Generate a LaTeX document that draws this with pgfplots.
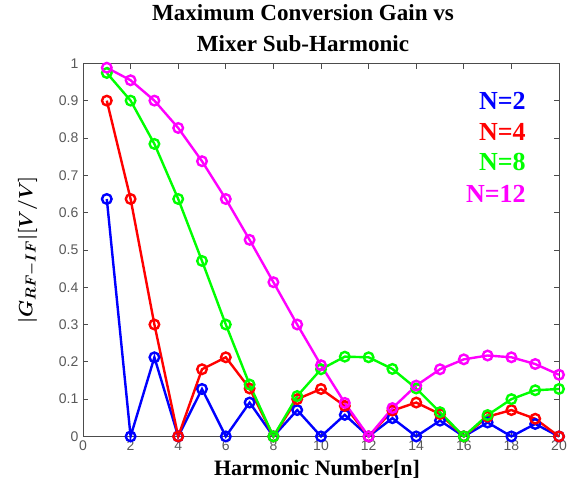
\documentclass[border=0pt]{standalone}
\usepackage{bm}
\usepackage{pgfplots}
\pgfplotsset{compat=1.18}
\usepackage{fontspec}
\setmainfont{Liberation Serif}
\setsansfont{Liberation Sans}
\definecolor{mblue}{RGB}{0,0,255}
\definecolor{mred}{RGB}{255,0,0}
\definecolor{mgreen}{RGB}{0,255,0}
\definecolor{mmag}{RGB}{255,0,255}
\begin{document}
\begin{tikzpicture}
\begin{axis}[
  scale only axis,
  width=357pt, height=279.75pt,
  xmin=0, xmax=20, ymin=0, ymax=1,
  xtick={0,2,...,20},
  ytick={0,0.1,...,1},
  yticklabels={0,0.1,0.2,0.3,0.4,0.5,0.6,0.7,0.8,0.9,1},
  tick align=inside,
  major tick length=4pt,
  axis line style={black!70, line width=0.6pt},
  every tick/.style={black!70, line width=0.6pt},
  tick label style={font=\sffamily\fontsize{10.5}{12}\selectfont, text=black!65},
  /pgf/number format/assume math mode=true,
  title={Maximum Conversion Gain vs\\Mixer Sub-Harmonic},
  title style={align=center, yshift=-1pt, xshift=-13.5pt, font=\bfseries\fontsize{17.3}{23.5}\selectfont},
  xlabel={Harmonic Number[n]},
  xlabel style={font=\bfseries\fontsize{16.5}{20}\selectfont, xshift=-3pt},
  ylabel={$\bm{|G_{RF-IF}|[V/V]}$},
  ylabel style={font=\fontsize{15.5}{18}\selectfont, yshift=9pt},
  every axis plot/.append style={line width=1.8pt, mark=o, mark size=3.6pt},
  clip=false,
]
\addplot[mblue] coordinates {
(1,0.6366)(2,0)(3,0.2122)(4,0)(5,0.1273)(6,0)(7,0.0909)(8,0)(9,0.0707)(10,0)
(11,0.0579)(12,0)(13,0.0490)(14,0)(15,0.0424)(16,0)(17,0.0374)(18,0)(19,0.0335)(20,0)};
\addplot[mred] coordinates {
(1,0.9003)(2,0.6366)(3,0.3001)(4,0)(5,0.1801)(6,0.2122)(7,0.1286)(8,0)(9,0.1000)(10,0.1273)
(11,0.0818)(12,0)(13,0.0693)(14,0.0909)(15,0.0600)(16,0)(17,0.0530)(18,0.0707)(19,0.0474)(20,0)};
\addplot[mgreen] coordinates {
(1,0.9745)(2,0.9003)(3,0.7842)(4,0.6366)(5,0.4705)(6,0.3001)(7,0.1392)(8,0)(9,0.1083)(10,0.1801)
(11,0.2139)(12,0.2122)(13,0.1810)(14,0.1286)(15,0.0650)(16,0)(17,0.0573)(18,0.1000)(19,0.1238)(20,0.1273)};
\addplot[mmag] coordinates {
(1,0.9886)(2,0.9549)(3,0.9003)(4,0.8270)(5,0.7379)(6,0.6366)(7,0.5271)(8,0.4135)(9,0.3001)(10,0.1910)
(11,0.0899)(12,0)(13,0.0760)(14,0.1364)(15,0.1801)(16,0.2067)(17,0.2170)(18,0.2122)(19,0.1942)(20,0.1654)};
\node[anchor=east, text=mblue, font=\bfseries\fontsize{19.5}{21}\selectfont] at (rel axis cs:0.94,0.9) {N=2};
\node[anchor=east, text=mred, font=\bfseries\fontsize{19.5}{21}\selectfont] at (rel axis cs:0.94,0.815) {N=4};
\node[anchor=east, text=mgreen, font=\bfseries\fontsize{19.5}{21}\selectfont] at (rel axis cs:0.94,0.735) {N=8};
\node[anchor=east, text=mmag, font=\bfseries\fontsize{19.5}{21}\selectfont] at (rel axis cs:0.94,0.65) {N=12};
\end{axis}
\path (current axis.south west) ++(-62.25pt,-45pt) coordinate (bbA);
\path (current axis.north east) ++(12.75pt,46.5pt) coordinate (bbB);
\path (bbA) rectangle (bbB);
\end{tikzpicture}
\end{document}
